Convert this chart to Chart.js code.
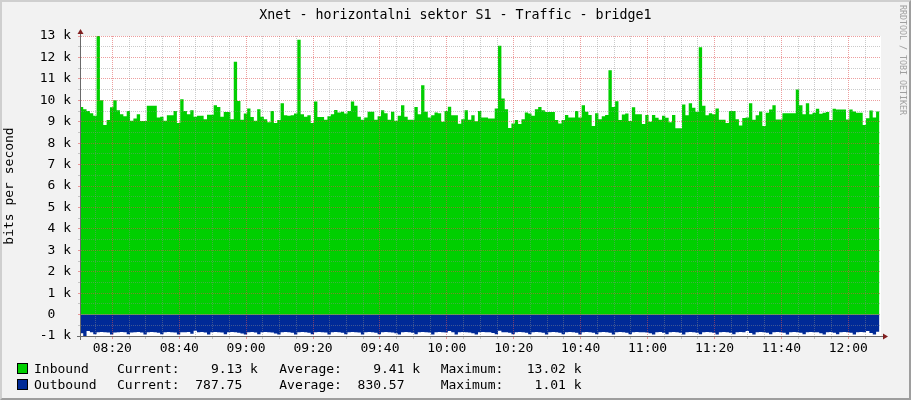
<!DOCTYPE html>
<html>
<head>
<meta charset="utf-8">
<script src="https://cdn.jsdelivr.net/npm/chart.js@4.4.0/dist/chart.umd.min.js"></script>
<style>
html,body{margin:0;padding:0;background:#F2F2F2;}
#frame{position:relative;width:911px;height:400px;box-sizing:border-box;border:2px solid;border-color:#CFCFCF #9E9E9E #9E9E9E #CFCFCF;background:#F2F2F2;overflow:hidden;font-family:"DejaVu Sans Mono",monospace;}
#c{position:absolute;left:0;top:0;}
.t{position:absolute;white-space:pre;font-size:13px;line-height:13px;color:#000;}
.box{position:absolute;width:11px;height:11px;box-sizing:border-box;border:1px solid #000;}
#title{position:absolute;left:0;top:6px;width:907px;text-align:center;white-space:pre;font-size:13.3px;line-height:13.3px;color:#000;}
#wm{position:absolute;left:896px;top:3px;writing-mode:vertical-rl;font-size:8.3px;line-height:9px;color:#A0A0A0;white-space:pre;}
</style>
</head>
<body>
<div id="frame">
  <canvas id="c" width="907" height="396" style="width:907px;height:396px"></canvas>
  <div id="title">Xnet - horizontalni sektor S1 - Traffic - bridge1</div>
  <div id="wm">RRDTOOL / TOBI OETIKER</div>
  <div class="box" style="left:15px;top:361px;background:#00CF00"></div>
  <div class="box" style="left:15px;top:377px;background:#002A97"></div>
  <div class="t" style="left:32px;top:360px">Inbound</div>
  <div class="t" style="left:115px;top:360px">Current:    9.13 k</div>
  <div class="t" style="left:277.3px;top:360px">Average:    9.41 k</div>
  <div class="t" style="left:438.7px;top:360px">Maximum:   13.02 k</div>
  <div class="t" style="left:32px;top:376px">Outbound</div>
  <div class="t" style="left:115px;top:376px">Current:  787.75  </div>
  <div class="t" style="left:277.3px;top:376px">Average:  830.57  </div>
  <div class="t" style="left:438.7px;top:376px">Maximum:    1.01 k</div>
</div>
<script>
// ---- data (one sample per minute, first sample at 08:10:18) ----
const firstSampleMinute = 490.3;   // minutes after midnight
const axisStartMinute = 490.64;    // 08:10:38
const axisEndMinute = 729.77;      // 12:09:46

// Inbound, bits per second
const inbound = [
  9690,9580,9500,9400,9280,13020,10000,8850,9080,9680,
  10000,9540,9350,9250,9500,9050,9150,9350,9030,9030,
  9750,9750,9750,9200,9230,9050,9300,9300,9500,8940,
  10050,9500,9350,9540,9230,9280,9280,9120,9320,9320,
  9770,9690,9230,9450,9450,9120,11800,9970,9090,9380,
  9620,9220,9050,9580,9230,9120,8970,9500,8940,9080,
  9860,9300,9280,9300,9380,12820,9350,9230,9300,8940,
  9940,9220,9220,9090,9250,9350,9550,9430,9460,9380,
  9500,9940,9750,9230,9090,9200,9460,9460,9090,9250,
  9540,9400,9090,9460,9050,9280,9770,9230,9090,9090,
  9690,9350,10700,9460,9200,9300,9430,9400,9000,9500,
  9700,9300,9300,8900,9120,9540,9090,9300,9020,9500,
  9200,9200,9150,9150,9620,12540,10080,9580,8710,8920,
  9080,8890,9120,9430,9380,9280,9580,9690,9540,9450,
  9450,9450,9080,8920,9080,9310,9200,9200,9500,9200,
  9770,9460,9310,8800,9400,9120,9250,9310,11400,9690,
  9950,9080,9340,9380,9030,9680,9350,9350,8890,9310,
  9000,9310,9180,9090,9280,9180,8980,9310,8690,8690,
  9800,9300,9860,9650,9460,12480,9750,9300,9400,9350,
  9620,9090,9090,8940,9500,9500,9120,8820,9170,9200,
  9860,9090,9300,9480,8800,9420,9570,9770,9100,9100,
  9400,9400,9400,9400,10500,9770,9350,9860,9350,9420,
  9600,9370,9420,9450,9080,9600,9570,9570,9570,9100,
  9570,9480,9420,9420,8850,9160,9520,9200,9480
];

// Outbound, bits per second (drawn below zero)
const outbound = [
  870,1010,770,820,920,830,815,825,840,925,
  835,820,815,830,915,840,820,810,835,930,
  830,815,820,845,920,825,815,820,840,925,
  830,820,815,900,760,820,815,835,930,830,
  815,820,840,920,825,815,820,845,880,935,
  825,815,840,920,830,815,825,840,880,930,
  825,815,825,845,925,830,815,820,845,920,
  830,815,820,840,925,825,815,820,845,920,
  830,815,825,840,925,830,815,820,845,920,
  830,815,820,835,870,930,825,815,820,845,
  920,830,815,820,840,925,830,815,825,840,
  765,830,935,825,815,820,840,870,925,830,
  815,825,830,860,920,760,825,820,845,915,
  830,815,820,845,920,830,815,825,845,925,
  830,815,820,845,920,825,815,820,845,925,
  830,815,820,845,920,825,815,825,845,925,
  830,815,820,845,920,825,815,820,830,840,
  870,930,825,815,845,920,830,815,820,845,
  925,830,815,820,845,920,825,815,820,845,
  925,830,815,820,845,920,825,815,820,770,
  860,930,825,815,820,845,920,830,815,820,
  845,925,830,815,820,845,920,825,815,820,
  830,870,925,830,815,850,920,830,815,820,
  845,925,830,815,820,765,860,930,800
];

// axis ticks
const xMinorStep = 5, xMajorStep = 20;      // minutes
const yMin = -1000, yMax = 13000, yMinorStep = 500, yMajorStep = 1000;

// ---- build series ----
function toPoints(values, sign){
  const pts = values.map((v,i)=>({x: firstSampleMinute + i, y: sign*v}));
  // close the last one-minute step
  pts.push({x: firstSampleMinute + values.length, y: sign*values[values.length-1]});
  return pts;
}
function hhmm(m){
  const r = Math.round(m);
  const h = Math.floor(r/60), mm = r % 60;
  return String(h).padStart(2,'0') + ':' + String(mm).padStart(2,'0');
}

const MAJOR = 'rgba(222,79,79,0.55)';
const MINOR = 'rgba(140,140,140,0.45)';
const FONT = {family:'"DejaVu Sans Mono"', size:13};

const bgPlugin = {
  id:'plotBg',
  beforeDraw(chart){
    const {ctx, chartArea:a} = chart;
    ctx.save(); ctx.fillStyle='#FFFFFF';
    ctx.fillRect(a.left, a.top, a.right-a.left, a.bottom-a.top);
    ctx.restore();
  }
};
const axesPlugin = {
  id:'rrdAxes',
  afterDraw(chart){
    const {ctx, chartArea:a} = chart;
    ctx.save();
    ctx.strokeStyle='#6A6A6A'; ctx.lineWidth=1;
    const ax = a.left - 0.5, ay = a.bottom + 0.5;
    ctx.beginPath();
    ctx.moveTo(ax, a.top - 5); ctx.lineTo(ax, a.bottom + 4);
    ctx.moveTo(a.left - 4, ay); ctx.lineTo(a.right + 4, ay);
    ctx.stroke();
    ctx.fillStyle='#801F1F';
    ctx.beginPath();
    ctx.moveTo(ax, a.top - 7); ctx.lineTo(ax - 3, a.top - 2); ctx.lineTo(ax + 3, a.top - 2); ctx.closePath(); ctx.fill();
    ctx.beginPath();
    ctx.moveTo(a.right + 7, ay); ctx.lineTo(a.right + 2, ay - 3); ctx.lineTo(a.right + 2, ay + 3); ctx.closePath(); ctx.fill();
    ctx.restore();
  }
};

Chart.defaults.font.family = '"DejaVu Sans Mono"';

new Chart(document.getElementById('c'), {
  type:'line',
  data:{datasets:[
    {label:'Inbound', data:toPoints(inbound, 1), stepped:true, fill:'origin',
     backgroundColor:'#00CF00', borderColor:'rgba(0,0,0,0)', borderWidth:0, pointRadius:0},
    {label:'Outbound', data:toPoints(outbound, -1), stepped:true, fill:'origin',
     backgroundColor:'#002A97', borderColor:'rgba(0,0,0,0)', borderWidth:0, pointRadius:0}
  ]},
  options:{
    responsive:false, animation:false, devicePixelRatio:1, events:[],
    layout:{padding:{left:0, right:28, top:34, bottom:34}},
    plugins:{legend:{display:false}, title:{display:false}, tooltip:{enabled:false}},
    scales:{
      x:{type:'linear', min:axisStartMinute, max:axisEndMinute, z:1,
         afterFit(s){ s.height = 28; },
         ticks:{stepSize:xMinorStep, autoSkip:false, maxRotation:0, minRotation:0, includeBounds:false,
                padding:2, color:'#000', font:FONT,
                callback:(v)=> Math.round(v) % xMajorStep === 0 ? hhmm(v) : ''},
         grid:{z:1, lineWidth:1, drawTicks:true, tickLength:3,
               color:(c)=> (c.tick && Math.round(c.tick.value) % xMajorStep === 0) ? MAJOR : MINOR,
               tickColor:(c)=> (c.tick && Math.round(c.tick.value) % xMajorStep === 0) ? MAJOR : MINOR,
               borderDash:[1,1]},
         border:{display:false, dash:[1,1]}
      },
      y:{min:yMin, max:yMax, z:1,
         afterFit(s){ s.width = 79; },
         ticks:{stepSize:yMinorStep, autoSkip:false, includeBounds:false, padding:7, color:'#000', font:FONT,
                callback:(v)=> v % yMajorStep !== 0 ? '' : (v === 0 ? '0  ' : (v/1000) + ' k')},
         grid:{z:1, lineWidth:1, drawTicks:true, tickLength:3,
               color:(c)=> (c.tick && c.tick.value % yMajorStep === 0) ? MAJOR : MINOR,
               tickColor:(c)=> (c.tick && c.tick.value % yMajorStep === 0) ? MAJOR : MINOR,
               borderDash:[1,1]},
         border:{display:false, dash:[1,1]},
         title:{display:true, text:'bits per second', color:'#000', font:FONT, padding:0}
      }
    }
  },
  plugins:[bgPlugin, axesPlugin]
});
</script>
</body>
</html>
